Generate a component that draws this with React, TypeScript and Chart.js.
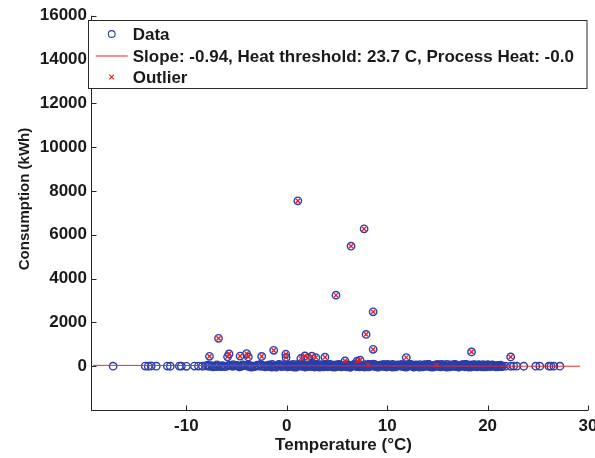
import { useEffect, useRef } from 'react';
import { Chart, registerables } from 'chart.js';

Chart.register(...registerables);

// ---- Data ----
const X_TICKS = [-10, 0, 10, 20, 30];
const Y_TICKS = [-2000, 0, 2000, 4000, 6000, 8000, 10000, 12000, 14000, 16000];
const X_MIN = -19.5;
const X_MAX = 30;
const Y_MIN = -2000;
const Y_MAX = 16000;

const LEGEND_LABELS = ['Data', 'Slope: -0.94, Heat threshold: 23.7 C, Process Heat: -0.0', 'Outlier'];
const X_TITLE = 'Temperature (°C)';
const Y_TITLE = 'Consumption (kWh)';

// sparse cold / warm days
const sparsePoints: [number, number][] = [
  [-17.3, 0], [-14.1, 5], [-13.8, -3], [-13.5, 8], [-13.0, 2], [-11.9, 4], [-11.6, -2],
  [-10.7, 6], [-10.5, 1], [-10.0, -4], [-9.2, 3], [-8.8, 7], [-8.4, -2], [-8.1, 10],
  [21.8, 2], [22.3, -3], [22.6, 4], [22.9, 0], [23.6, -2], [24.8, 1], [25.2, -1],
  [26.1, 0], [26.3, 2], [26.6, -1], [27.2, 0],
];

// dense band of regular days
const bandPointsA: [number, number][] = [
  [-7.9, 12], [-7.7, -8], [-7.5, 20], [-7.2, 5], [-7.0, -15], [-6.8, 18], [-6.5, 2], [-6.4, 25],
  [-6.1, -10], [-5.9, 8], [-5.6, 30], [-5.4, -5], [-5.2, 14], [-4.9, 22], [-4.6, -12], [-4.5, 6],
  [-4.2, 28], [-3.9, -3], [-3.7, 16], [-3.5, 9], [-3.2, -18], [-3.0, 24], [-2.8, 4], [-2.5, -9],
  [-2.3, 19], [-2.0, 11], [-1.8, -14], [-1.6, 27], [-1.3, 3], [-1.1, -6], [-0.9, 21], [-0.7, 13],
  [-0.4, -11], [-0.2, 26], [0.1, 7], [0.3, -16], [0.4, 23], [0.6, 1], [0.8, 17], [1.0, -7],
  [1.2, 29], [1.3, 10], [1.5, -13], [1.7, 20], [1.9, 5], [2.0, -4], [2.2, 25], [2.4, 15],
  [2.5, -17], [2.7, 8], [2.9, 22], [3.0, -2], [3.2, 18], [3.4, -10], [3.5, 26], [3.7, 6],
  [3.9, -14], [4.0, 12], [4.2, 31], [4.4, -5], [4.5, 19], [4.7, 3], [4.9, -12], [5.1, 24],
  [5.2, 9], [5.4, -8], [5.6, 28], [5.7, 14], [5.9, -15], [6.1, 21], [6.2, 2], [6.4, -6],
  [6.6, 17], [6.8, 27], [6.9, -11], [7.1, 10], [7.3, 23], [7.4, -3], [7.6, 15], [7.8, -16],
  [8.0, 30], [8.1, 7], [8.3, -9], [8.5, 20], [8.7, 4], [8.8, -13], [9.0, 25], [9.2, 11],
  [9.4, -7], [9.5, 18], [9.7, 1], [9.9, -18], [10.1, 22], [10.2, 13], [10.4, -4], [10.6, 27],
  [10.8, 6], [10.9, -12], [11.1, 19], [11.3, 9], [11.5, -8], [11.6, 24], [11.8, 3], [12.0, -15],
  [12.2, 16], [12.4, 28], [12.5, -2], [12.7, 12], [12.9, -10], [13.1, 21], [13.3, 5], [13.4, -14],
  [13.6, 26], [13.8, 8], [14.0, -6], [14.2, 17], [14.4, -17], [14.5, 23], [14.7, 2], [14.9, -9],
  [15.1, 20], [15.3, 11], [15.5, -13], [15.7, 25], [15.8, 4], [16.0, -5], [16.2, 18], [16.4, 9],
  [16.6, -11], [16.8, 22], [17.0, 1], [17.2, -16], [17.4, 14], [17.6, 27], [17.8, -3], [18.0, 10],
  [18.2, -12], [18.4, 19], [18.6, 6], [18.8, -8], [19.0, 24], [19.2, 3], [19.5, -14], [19.7, 15],
  [19.9, 7], [20.2, -6], [20.4, 21], [20.7, 2], [20.9, -10], [21.2, 13], [21.5, 5],
];

const bandPointsB: [number, number][] = [
  [-6.6, -20], [-5.0, 35], [-3.3, -25], [-1.9, 38], [-0.5, -22], [0.5, 40], [0.9, -28], [1.6, 36],
  [2.1, -24], [2.6, 42], [3.1, -30], [3.6, 38], [4.1, -26], [4.6, 44], [5.0, -21], [5.5, 37],
  [6.0, -27], [6.5, 41], [7.0, -23], [7.5, 39], [7.9, -29], [8.4, 35], [8.9, -25], [9.3, 43],
  [9.8, -20], [10.3, 36], [10.7, -28], [11.2, 40], [11.7, -22], [12.1, 34], [12.6, -26], [13.0, 41],
  [13.5, -24], [13.9, 37], [14.3, -30], [14.8, 39], [15.2, -21], [15.6, 36], [16.1, -27], [16.5, 42],
  [16.9, -23], [17.3, 35], [17.7, -25], [18.1, 38], [18.5, -20], [18.9, 33], [19.4, -26], [19.8, 37],
  [20.3, -18], [20.8, 30], [21.4, -15],
];

const bandPointsC: [number, number][] = [
  [-4.4, 62], [-3.6, -38], [-2.6, 70], [-1.5, -42], [-0.8, 78], [0.0, 55], [0.7, -40], [1.1, 84],
  [1.4, 60], [1.8, -36], [2.3, 72], [2.8, 88], [3.3, -44], [3.8, 66], [4.3, 80], [4.8, -39],
  [5.3, 74], [5.8, 58], [6.3, -41], [6.7, 86], [7.2, 64], [7.7, -37], [8.2, 76], [8.6, 90],
  [9.1, -43], [9.6, 68], [10.0, 82], [10.5, -38], [11.0, 59], [11.4, 75], [11.9, -40], [12.3, 87],
  [12.8, 63], [13.2, -45], [13.7, 71], [14.1, 79], [14.6, -36], [15.0, 67], [15.4, 85], [15.9, -42],
  [16.3, 61], [16.7, 77], [17.1, -39], [17.5, 69], [17.9, 83], [18.3, -41], [18.7, 57], [19.1, 73],
  [19.6, -35], [20.0, 65], [20.5, 52], [21.0, -30], [21.3, 48],
];

const bandPointsD: [number, number][] = [
  [-7.85, 45], [-7.35, -30], [-6.95, 60], [-6.25, -22], [-5.75, 38], [-5.35, 70], [-4.75, -35], [-4.35, 50],
  [-3.85, 66], [-3.45, -28], [-2.95, 42], [-2.65, 74], [-2.15, -33], [-1.75, 55], [-1.45, 80], [-1.05, -38],
  [-0.65, 48], [-0.35, 72], [0.05, -31], [0.35, 63], [0.65, 85], [0.95, -40], [1.25, 52], [1.55, 77],
  [1.85, -34], [2.15, 58], [2.45, 81], [2.75, -37], [3.05, 46], [3.35, 69], [3.65, -29], [3.95, 61],
  [4.25, 83], [4.55, -36], [4.85, 54], [5.15, 76], [5.45, -32], [5.75, 49], [6.05, 71], [6.35, -39],
  [6.65, 57], [6.95, 79], [7.25, -33], [7.55, 44], [7.85, 68], [8.15, -35], [8.45, 62], [8.75, 84],
  [9.05, -30], [9.35, 51], [9.65, 73], [9.95, -37], [10.25, 59], [10.55, 81], [10.85, -34], [11.15, 47],
  [11.45, 70], [11.75, -31], [12.05, 64], [12.35, 82], [12.65, -38], [12.95, 53], [13.25, 75], [13.55, -33],
  [13.85, 60], [14.15, 78], [14.45, -36], [14.75, 50], [15.05, 72], [15.35, -29], [15.65, 58], [15.95, 80],
  [16.25, -35], [16.55, 46], [16.85, 69], [17.15, -32], [17.45, 62], [17.75, 77], [18.05, -37], [18.35, 54],
  [18.65, 71], [18.95, -30], [19.25, 49], [19.55, 66], [19.85, -28], [20.15, 43], [20.45, 60], [20.75, -25],
  [21.05, 40], [21.35, -20],
];

const outlierPoints: [number, number][] = [
  [1.1, 7550], [7.7, 6270], [6.4, 5480], [4.9, 3240], [8.6, 2480], [7.9, 1450], [8.6, 770],
  [-6.8, 1270], [-7.7, 450], [-5.9, 430], [-5.75, 560], [-4.65, 460], [-4.0, 578], [-3.83, 424],
  [-2.5, 445], [-1.3, 725], [-0.1, 545], [-0.07, 396], [1.4, 350], [1.8, 470], [2.1, 365],
  [2.5, 455], [2.9, 395], [3.8, 410], [5.8, 240], [7.0, 230], [7.3, 275], [8.1, 65],
  [11.9, 395], [14.9, 60], [18.4, 650], [22.3, 425],
];

// fitted change-point model line
const fitLine: [number, number][] = [[-19.3, 40], [23.7, 0], [29.2, 0]];

const BLUE = 'rgb(42,62,168)';
const RED = 'rgb(232,28,36)';
const LINE_RED = 'rgb(236,40,40)';
const AXIS = '#262626';
const TEXT = '#1a1a1a';
const FONT = '"Liberation Sans", Arial, Helvetica, sans-serif';

const toXY = (arr: [number, number][]) => arr.map(([x, y]) => ({ x, y }));

const overlay = {
  id: 'overlay',
  afterDraw(chart: any) {
    const { ctx, chartArea, scales } = chart;
    const xs = scales.x;
    const ys = scales.y;
    ctx.save();
    ctx.strokeStyle = AXIS;
    ctx.lineWidth = 1;
    ctx.beginPath();
    const L = Math.round(chartArea.left) + 0.5;
    const B = Math.round(chartArea.bottom) + 0.5;
    ctx.moveTo(L, chartArea.top);
    ctx.lineTo(L, B);
    ctx.lineTo(chartArea.right, B);
    for (const v of X_TICKS) {
      const px = Math.round(xs.getPixelForValue(v)) + 0.5;
      ctx.moveTo(px, B);
      ctx.lineTo(px, B - 5);
    }
    for (const v of Y_TICKS) {
      const py = Math.round(ys.getPixelForValue(v)) + 0.5;
      ctx.moveTo(L, py);
      ctx.lineTo(L + 5, py);
    }
    ctx.stroke();

    // axis titles
    ctx.fillStyle = TEXT;
    ctx.textAlign = 'center';
    ctx.textBaseline = 'middle';
    ctx.font = `bold 17px ${FONT}`;
    ctx.fillText(X_TITLE, 343.5, 445);
    ctx.save();
    ctx.translate(24.5, 199);
    ctx.rotate(-Math.PI / 2);
    ctx.font = `bold 15px ${FONT}`;
    ctx.fillText(Y_TITLE, 0, 0);
    ctx.restore();

    // legend box
    const bx = 88.5, by = 20.5, bw = 498.5, bh = 68;
    ctx.fillStyle = '#ffffff';
    ctx.fillRect(bx, by, bw, bh);
    ctx.strokeStyle = '#2a2a2a';
    ctx.lineWidth = 1;
    ctx.strokeRect(bx, by, bw, bh);
    const rows = [34, 56, 77];
    const mx = 111.7;
    ctx.strokeStyle = BLUE;
    ctx.lineWidth = 1.1;
    ctx.beginPath();
    ctx.arc(mx, rows[0], 3.4, 0, Math.PI * 2);
    ctx.stroke();
    ctx.strokeStyle = 'rgb(240,110,110)';
    ctx.lineWidth = 1.3;
    ctx.beginPath();
    ctx.moveTo(95.7, rows[1]);
    ctx.lineTo(127.7, rows[1]);
    ctx.stroke();
    ctx.strokeStyle = RED;
    ctx.lineWidth = 1.1;
    ctx.beginPath();
    ctx.moveTo(mx - 2.3, rows[2] - 2.3);
    ctx.lineTo(mx + 2.3, rows[2] + 2.3);
    ctx.moveTo(mx + 2.3, rows[2] - 2.3);
    ctx.lineTo(mx - 2.3, rows[2] + 2.3);
    ctx.stroke();
    ctx.fillStyle = TEXT;
    ctx.font = `bold 17px ${FONT}`;
    ctx.textBaseline = 'middle';
    ctx.textAlign = 'left';
    LEGEND_LABELS.forEach((t, i) => ctx.fillText(t, 132.7, rows[i] + 1));
    ctx.restore();
  },
};

export default function App() {
  const ref = useRef<HTMLCanvasElement | null>(null);
  useEffect(() => {
    if (!ref.current) return;
    const chart = new Chart(ref.current, {
      type: 'scatter',
      data: {
        datasets: [
          {
            label: LEGEND_LABELS[0],
            data: toXY([
              ...sparsePoints, ...bandPointsA, ...bandPointsB, ...bandPointsC, ...bandPointsD, ...outlierPoints,
            ]),
            pointStyle: 'circle',
            pointRadius: 3.7,
            pointBorderWidth: 1.4,
            borderColor: BLUE,
            backgroundColor: 'rgba(0,0,0,0)',
            order: 3,
          } as any,
          {
            type: 'line',
            label: LEGEND_LABELS[1],
            data: toXY(fitLine),
            borderColor: LINE_RED,
            borderWidth: 1,
            pointRadius: 0,
            showLine: true,
            fill: false,
            order: 2,
          } as any,
          {
            label: LEGEND_LABELS[2],
            data: toXY(outlierPoints),
            pointStyle: 'crossRot',
            pointRadius: 3,
            pointBorderWidth: 1.3,
            borderColor: RED,
            backgroundColor: RED,
            order: 1,
          } as any,
        ],
      },
      options: {
        animation: false,
        responsive: false,
        devicePixelRatio: 1,
        layout: { padding: { left: 0, right: 7, top: 15.7, bottom: 0 } },
        plugins: { legend: { display: false }, tooltip: { enabled: false } },
        scales: {
          x: {
            type: 'linear',
            min: X_MIN,
            max: X_MAX,
            grid: { display: false, drawTicks: false },
            border: { display: false },
            afterBuildTicks: (s: any) => { s.ticks = X_TICKS.map((v) => ({ value: v })); },
            afterFit: (s: any) => { s.height = 48; s.paddingLeft = 0; s.paddingRight = 0; },
            ticks: {
              color: TEXT,
              font: { family: FONT, size: 17, weight: 'bold' },
              padding: 6,
              maxRotation: 0,
              autoSkip: false,
            },
            title: { display: false, text: X_TITLE },
          },
          y: {
            type: 'linear',
            min: Y_MIN,
            max: Y_MAX,
            grid: { display: false, drawTicks: false },
            border: { display: false },
            afterBuildTicks: (s: any) => { s.ticks = Y_TICKS.map((v) => ({ value: v })); },
            afterFit: (s: any) => { s.width = 91; s.paddingTop = 0; s.paddingBottom = 0; },
            ticks: {
              color: TEXT,
              font: { family: FONT, size: 17, weight: 'bold' },
              padding: 4,
              autoSkip: false,
              callback: (v: any) => (v === Y_MIN ? '' : String(v)),
            },
            title: { display: false, text: Y_TITLE },
          },
        },
      },
      plugins: [overlay],
    });
    return () => chart.destroy();
  }, []);
  return (
    <div style={{ position: 'fixed', left: 0, top: 0, width: 595, height: 458, background: '#fff' }}>
      <canvas ref={ref} width={595} height={458} />
    </div>
  );
}
